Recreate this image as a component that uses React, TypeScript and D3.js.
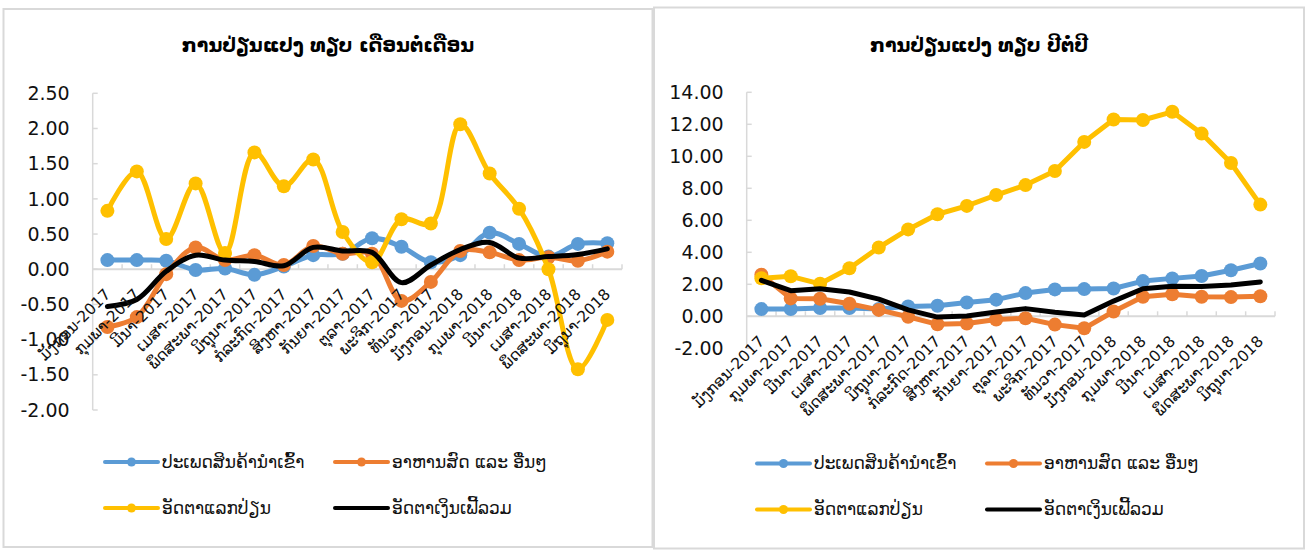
import React from 'react';
import * as d3 from 'd3';

// Month labels (Lao)
const months: string[] = [
  'ມັງກອນ-2017', 'ກຸມພາ-2017', 'ມີນາ-2017', 'ເມສາ-2017', 'ພຶດສະພາ-2017', 'ມິຖຸນາ-2017',
  'ກໍລະກົດ-2017', 'ສິງຫາ-2017', 'ກັນຍາ-2017', 'ຕຸລາ-2017', 'ພະຈິກ-2017', 'ທັນວາ-2017',
  'ມັງກອນ-2018', 'ກຸມພາ-2018', 'ມີນາ-2018', 'ເມສາ-2018', 'ພຶດສະພາ-2018', 'ມິຖຸນາ-2018',
];

const seriesNames = ['ປະເພດສິນຄ້ານຳເຂົ້າ', 'ອາຫານສົດ ແລະ ອື່ນໆ', 'ອັດຕາແລກປ່ຽນ', 'ອັດຕາເງິນເຟີ້ລວມ'];
const seriesColors = ['#5B9BD5', '#ED7D31', '#FFC000', '#000000'];

// month-on-month change
const momImported = [0.13, 0.13, 0.12, -0.01, 0.01, -0.08, 0.04, 0.2, 0.22, 0.44, 0.32, 0.1, 0.2, 0.52, 0.36, 0.18, 0.36, 0.37];
const momFood = [-0.82, -0.68, -0.07, 0.31, 0.13, 0.2, 0.06, 0.33, 0.22, 0.22, -0.45, -0.18, 0.26, 0.24, 0.13, 0.17, 0.12, 0.25];
const momExchange = [0.83, 1.39, 0.43, 1.22, 0.23, 1.66, 1.18, 1.56, 0.53, 0.1, 0.71, 0.65, 2.06, 1.36, 0.86, 0.0, -1.42, -0.72];
const momCpi = [-0.53, -0.43, -0.03, 0.2, 0.13, 0.11, 0.05, 0.31, 0.26, 0.24, -0.19, 0.06, 0.28, 0.38, 0.16, 0.18, 0.21, 0.29];

// year-on-year change
const yoyImported = [0.45, 0.46, 0.52, 0.52, 0.46, 0.62, 0.66, 0.86, 1.04, 1.45, 1.68, 1.7, 1.74, 2.2, 2.37, 2.52, 2.88, 3.3];
const yoyFood = [2.6, 1.12, 1.1, 0.78, 0.4, -0.03, -0.5, -0.45, -0.2, -0.12, -0.52, -0.75, 0.3, 1.22, 1.38, 1.22, 1.2, 1.25];
const yoyExchange = [2.38, 2.5, 2.03, 3.0, 4.3, 5.43, 6.38, 6.9, 7.58, 8.2, 9.08, 10.9, 12.3, 12.27, 12.78, 11.42, 9.58, 6.98];
const yoyCpi = [2.25, 1.6, 1.72, 1.52, 1.07, 0.4, -0.05, 0.02, 0.27, 0.48, 0.25, 0.08, 0.95, 1.72, 1.88, 1.87, 1.95, 2.15];

const momTicks = [2.5, 2.0, 1.5, 1.0, 0.5, 0.0, -0.5, -1.0, -1.5, -2.0];
const yoyTicks = [14, 12, 10, 8, 6, 4, 2, 0, -2];

const FONT = "'DejaVu Sans', 'Noto Sans', sans-serif";

interface PanelProps {
  box: [number, number, number, number];
  title: string;
  series: number[][];
  ticks: number[];
  xRange: [number, number];
  yRange: [number, number];
  smooth: boolean;
  legendX: [number, number];
}

const Panel: React.FC<PanelProps> = ({ box, title, series, ticks, xRange, yRange, smooth, legendX }) => {
  const [bx, by, bw, bh] = box;
  const x = d3.scalePoint<string>().domain(months).range(xRange).padding(0.5);
  const step = x.step();
  const y = d3.scaleLinear().domain([d3.min(ticks)!, d3.max(ticks)!]).range(yRange);
  const line = d3
    .line<number>()
    .x((_, i) => x(months[i])!)
    .y((d) => y(d))
    .curve(smooth ? d3.curveCatmullRom.alpha(0.5) : d3.curveLinear);
  const y0 = y(0);
  const legendRows = [bh + by - 85, bh + by - 39];

  return (
    <g>
      <rect x={bx} y={by} width={bw} height={bh} fill="#fff" stroke="#d9d9d9" strokeWidth={2} />
      <text x={bx + bw / 2} y={52} textAnchor="middle" fontWeight="bold" fontSize={19} fontFamily={FONT}>
        {title}
      </text>
      {/* y axis */}
      <line x1={xRange[0]} x2={xRange[0]} y1={yRange[1]} y2={yRange[0]} stroke="#d9d9d9" strokeWidth={1.5} />
      {ticks.map((t) => (
        <g key={t}>
          <line x1={xRange[0]} x2={xRange[0] + 5} y1={y(t)} y2={y(t)} stroke="#d9d9d9" strokeWidth={1.5} />
          <text x={xRange[0] - 23} y={y(t)} dy="0.35em" textAnchor="end" fontSize={19} fontFamily={FONT} fill="#111">
            {t.toFixed(2)}
          </text>
        </g>
      ))}
      {/* x axis at zero */}
      <line x1={xRange[0]} x2={xRange[1]} y1={y0} y2={y0} stroke="#d9d9d9" strokeWidth={2} />
      {months.map((m, i) => (
        <line key={m} x1={xRange[0] + step * (i + 1)} x2={xRange[0] + step * (i + 1)} y1={y0} y2={y0 - 5} stroke="#d9d9d9" strokeWidth={1.5} />
      ))}
      {series.map((s, si) => (
        <g key={si}>
          <path d={line(s) ?? ''} fill="none" stroke={seriesColors[si]} strokeWidth={5} strokeLinejoin="round" strokeLinecap="round" />
          {si < 3 &&
            s.map((v, i) => <circle key={i} cx={x(months[i])} cy={y(v)} r={7} fill={seriesColors[si]} />)}
        </g>
      ))}
      {months.map((m) => {
        const lx = x(m)! + 4;
        const ly = y0 + 26;
        return (
          <text key={m} transform={`translate(${lx},${ly}) rotate(-45)`} textAnchor="end" fontSize={15.5} fontFamily={FONT} fill="#111">
            {m}
          </text>
        );
      })}
      {/* legend */}
      {seriesNames.map((name, si) => {
        const lx = legendX[si % 2];
        const ly = legendRows[Math.floor(si / 2)];
        return (
          <g key={name}>
            <line x1={lx} x2={lx + 53} y1={ly} y2={ly} stroke={seriesColors[si]} strokeWidth={4} strokeLinecap="round" />
            {si < 3 && <circle cx={lx + 26.5} cy={ly} r={4.5} fill={seriesColors[si]} />}
            <text x={lx + 57} y={ly} dy="0.35em" fontSize={17} fontFamily={FONT} fill="#111">
              {name}
            </text>
          </g>
        );
      })}
    </g>
  );
};

const App: React.FC = () => (
  <svg width={1306} height={552} style={{ position: 'absolute', left: 0, top: 0, background: '#fff' }}>
    <Panel
      box={[3.5, 9, 649, 538]}
      title="ການປ່ຽນແປງ ທຽບ ເດືອນຕໍ່ເດືອນ"
      series={[momImported, momFood, momExchange, momCpi]}
      ticks={momTicks}
      xRange={[92.7, 622]}
      yRange={[410, 93.3]}
      smooth={true}
      legendX={[105, 335]}
    />
    <Panel
      box={[654, 7.5, 650, 541]}
      title="ການປ່ຽນແປງ ທຽບ ປີຕໍ່ປີ"
      series={[yoyImported, yoyFood, yoyExchange, yoyCpi]}
      ticks={yoyTicks}
      xRange={[746.7, 1275]}
      yRange={[348.3, 92.3]}
      smooth={false}
      legendX={[757, 987]}
    />
  </svg>
);

export default App;
